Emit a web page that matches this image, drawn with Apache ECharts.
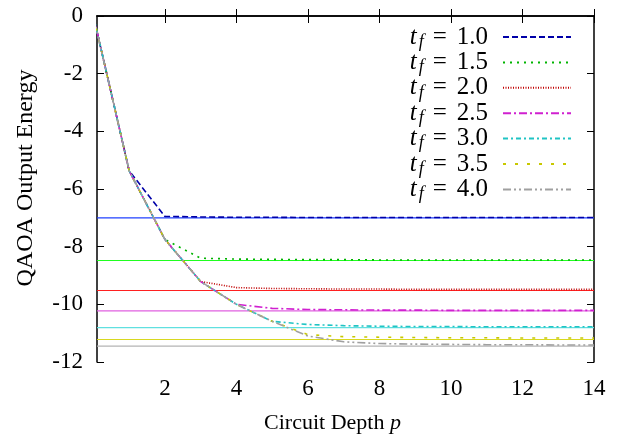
<!DOCTYPE html>
<html>
<head>
<meta charset="utf-8">
<script src="https://cdn.jsdelivr.net/npm/echarts@6/dist/echarts.min.js"></script>
<style>
  html, body { margin: 0; padding: 0; background: #fff; }
  #chart { width: 619px; height: 439px; }
</style>
</head>
<body>
<div id="chart"></div>
<script>
// circuit depth p
const depths = [0, 1, 2, 3, 4, 5, 6, 7, 8, 9, 10, 11, 12, 13, 14];

// QAOA output energy for each t_f
const tf10 = [0, -5.37, -6.95, -6.97, -6.98, -6.98, -6.99, -6.99, -6.99, -6.99, -6.99, -6.99, -6.99, -6.99, -6.99];
const tf15 = [0, -5.37, -7.75, -8.4, -8.43, -8.44, -8.45, -8.45, -8.46, -8.46, -8.46, -8.46, -8.46, -8.46, -8.46];
const tf20 = [0, -5.37, -7.75, -9.21, -9.42, -9.45, -9.46, -9.47, -9.47, -9.48, -9.48, -9.48, -9.48, -9.48, -9.48];
const tf25 = [0, -5.37, -7.75, -9.21, -10.0, -10.14, -10.18, -10.19, -10.2, -10.2, -10.21, -10.21, -10.21, -10.21, -10.21];
const tf30 = [0, -5.37, -7.75, -9.21, -10.0, -10.59, -10.7, -10.74, -10.76, -10.77, -10.77, -10.78, -10.78, -10.78, -10.78];
const tf35 = [0, -5.37, -7.75, -9.21, -10.0, -10.59, -11.05, -11.12, -11.14, -11.15, -11.16, -11.16, -11.17, -11.17, -11.17];
const tf40 = [0, -5.37, -7.75, -9.21, -10.0, -10.59, -11.1, -11.3, -11.36, -11.38, -11.39, -11.4, -11.4, -11.41, -11.41];

// reference (solid) levels
const exactLevels = [-7.0, -8.48, -9.52, -10.23, -10.81, -11.22, -11.45];

const tfLabels = ['1.0', '1.5', '2.0', '2.5', '3.0', '3.5', '4.0'];
const xTicks = [2, 4, 6, 8, 10, 12, 14];
const xRange = [0.1, 14];

const curveColors = ['#0000a8', '#00b400', '#c00000', '#d020d0', '#20c4c4', '#c8c800', '#a0a0a0'];
const solidColors = ['#2040ff', '#20ff20', '#ff2020', '#e060e0', '#60e0e0', '#d8d820', '#b4b4b4'];
const dashes = [[6, 3], [2, 5], [1, 1.5], [8, 3, 2, 3], [5, 3, 2, 3], [3, 9], [8, 3, 2, 3, 2, 3]];

const curves = [tf10, tf15, tf20, tf25, tf30, tf35, tf40];

const serif = 'Liberation Serif';

const chart = echarts.init(document.getElementById('chart'));

const solidSeries = exactLevels.map((v, i) => ({
    name: 'exact ' + tfLabels[i],
    type: 'line',
    data: xRange.map(x => [x, v]),
    symbol: 'none',
    silent: true,
    lineStyle: { color: solidColors[i], width: 1.2, type: 'solid' },
    z: 1
}));

const curveSeries = curves.map((vals, i) => ({
    name: tfLabels[i],
    type: 'line',
    data: depths.map((p, j) => [p, vals[j]]),
    symbol: 'none',
    clip: true,
    itemStyle: { color: curveColors[i] },
    lineStyle: { color: curveColors[i], width: 1.6, type: dashes[i] },
    z: 2 + i
}));

const axisCommon = {
    axisLine: { show: true, lineStyle: { color: '#000', width: 1.5 } },
    axisTick: { inside: true, length: 7, lineStyle: { color: '#000', width: 1 } },
    splitLine: { show: false }
};

const option = {
    animation: false,
    grid: { left: 97, right: 25, top: 16, bottom: 75, containLabel: false },
    legend: {
        data: tfLabels,
        orient: 'vertical',
        align: 'right',
        right: 47,
        top: 23,
        padding: 0,
        itemWidth: 68,
        itemHeight: 8,
        itemGap: -2.6,
        itemStyle: { color: 'transparent', borderWidth: 0, opacity: 0 },
        lineStyle: { opacity: 1 },
        formatter: name => `{t|t}{f|f}{q|=}{n|${name}}`,
        textStyle: {
            color: '#000',
            rich: {
                t: { fontFamily: serif, fontStyle: 'italic', fontSize: 25, lineHeight: 22, color: '#000', padding: [0, 2, 0, 0] },
                f: { fontFamily: serif, fontStyle: 'italic', fontSize: 18, lineHeight: 12, color: '#000', padding: [10, 9, 0, 0] },
                q: { fontFamily: serif, fontSize: 25, lineHeight: 22, color: '#000', padding: [0, 10, 0, 0] },
                n: { fontFamily: serif, fontSize: 25, lineHeight: 22, color: '#000', padding: [0, 10, 0, 0] }
            }
        }
    },
    xAxis: [
        {
            type: 'value',
            min: xRange[0],
            max: xRange[1],
            position: 'bottom',
            ...axisCommon,
            axisTick: { ...axisCommon.axisTick, customValues: xTicks },
            axisLabel: {
                customValues: xTicks,
                color: '#000',
                fontFamily: serif,
                fontSize: 23,
                margin: 15
            },
            name: '{a|Circuit Depth }{p|p}',
            nameLocation: 'middle',
            nameGap: 50,
            nameTextStyle: {
                padding: [0, 26, 0, 0],
                rich: {
                    a: { fontFamily: serif, fontSize: 22, color: '#000' },
                    p: { fontFamily: serif, fontStyle: 'italic', fontSize: 22, color: '#000' }
                }
            }
        },
        {
            type: 'value',
            min: xRange[0],
            max: xRange[1],
            position: 'top',
            ...axisCommon,
            axisTick: { ...axisCommon.axisTick, customValues: xTicks },
            axisLabel: { show: false, customValues: xTicks }
        }
    ],
    yAxis: [
        {
            type: 'value',
            min: -12,
            max: 0,
            interval: 2,
            position: 'left',
            ...axisCommon,
            axisLabel: {
                color: '#000',
                fontFamily: serif,
                fontSize: 23,
                margin: 14
            },
            name: 'QAOA Output Energy',
            nameLocation: 'middle',
            nameGap: 59,
            nameTextStyle: { fontFamily: serif, fontSize: 24, color: '#000', padding: [0, 0, 0, 22] }
        },
        {
            type: 'value',
            min: -12,
            max: 0,
            interval: 2,
            position: 'right',
            ...axisCommon,
            axisLabel: { show: false }
        }
    ],
    series: [...solidSeries, ...curveSeries]
};

chart.setOption(option);
</script>
</body>
</html>
